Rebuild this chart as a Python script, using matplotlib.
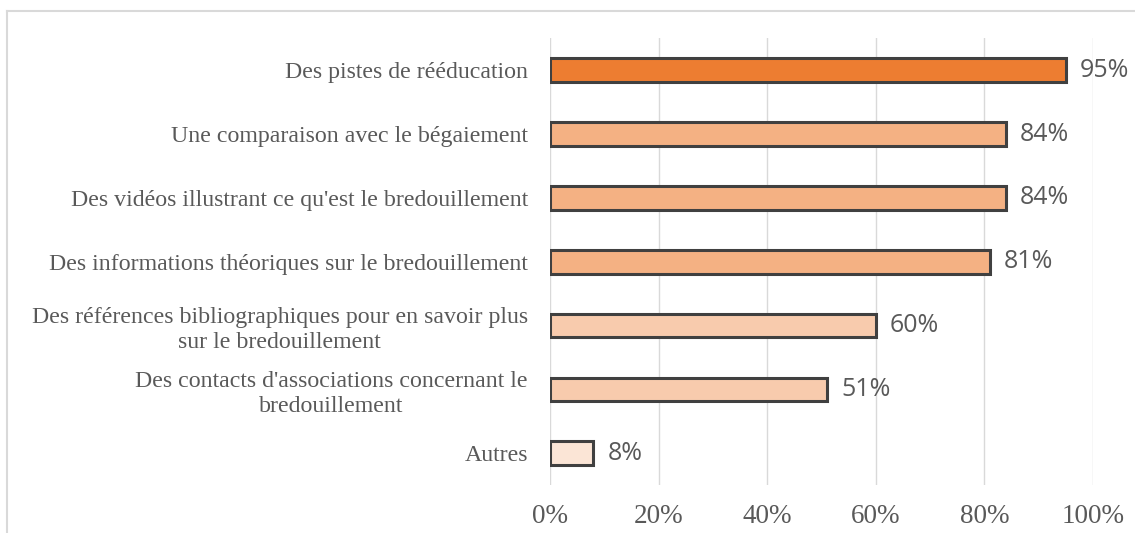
import matplotlib.pyplot as plt
from matplotlib.lines import Line2D

categories = [
  "Des pistes de rééducation",
  "Une comparaison avec le bégaiement",
  "Des vidéos illustrant ce qu'est le bredouillement",
  "Des informations théoriques sur le bredouillement",
  "Des références bibliographiques pour en savoir plus\nsur le bredouillement",
  "Des contacts d'associations concernant le\nbredouillement",
  "Autres",
]
values = [95, 84, 84, 81, 60, 51, 8]
colors = ["#ED7D31", "#F4B183", "#F4B183", "#F4B183", "#F8CBAD", "#F8CBAD", "#FBE5D6"]
xticks = [0, 20, 40, 60, 80, 100]

text_grey = "#595959"

fig = plt.figure(figsize=(11.35, 5.33), dpi=100)
ax = fig.add_axes([0.4846, 0.09, 0.4784, 0.838])

y = list(range(len(categories)))[::-1]
ax.barh(y, values, height=0.37, color=colors, edgecolor="#404040", linewidth=2.2, zorder=3)

for yi, v in zip(y, values):
  ax.text(v + 2.6, yi, f"{v}%", va="center", ha="left", fontsize=18,
          family="Open Sans", color=text_grey)

ax.set_xlim(0, 100)
ax.set_ylim(-0.5, len(categories) - 0.5)
ax.set_xticks(xticks)
ax.set_xticklabels([f"{t}%" for t in xticks], family="Liberation Serif", fontsize=19.5, color=text_grey)
ax.set_yticks(y)
ax.set_yticklabels(categories, family="Liberation Serif", fontsize=17.2, color=text_grey,
                   multialignment="center", linespacing=1.25)
ax.tick_params(axis="both", length=0)
ax.tick_params(axis="y", pad=16)
ax.tick_params(axis="x", pad=14)
ax.grid(axis="x", color="#D9D9D9", linewidth=1, zorder=0)
for s in ax.spines.values():
  s.set_visible(False)

# chart area border (top and left visible)
fig.add_artist(Line2D([7 / 1135, 7 / 1135], [0, 1 - 11 / 533], transform=fig.transFigure,
                      color="#D9D9D9", linewidth=1.5))
fig.add_artist(Line2D([7 / 1135, 1], [1 - 11 / 533, 1 - 11 / 533], transform=fig.transFigure,
                      color="#D9D9D9", linewidth=1.5))

fig.savefig("out.png", dpi=100)
